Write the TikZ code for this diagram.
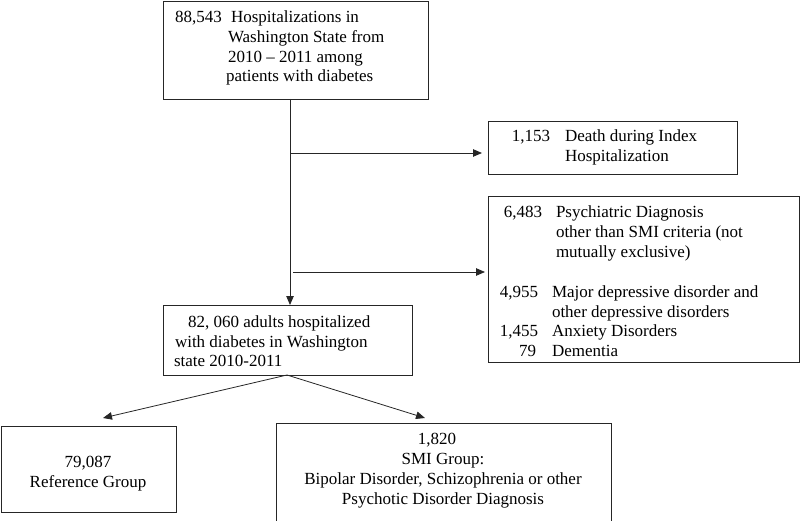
\documentclass[tikz,border=0pt]{standalone}
\usepackage{fontspec}
\setmainfont{Liberation Serif}
\usetikzlibrary{arrows.meta}
\newcommand{\fsz}{\fontsize{17}{20}\selectfont}
\begin{document}
\begin{tikzpicture}[x=1pt,y=-1pt,
  box/.style={draw=black!85, line width=0.9pt, inner sep=0pt, outer sep=0pt},
  txt/.style={inner sep=0pt, outer sep=0pt, font=\fsz, anchor=base west},
  num/.style={inner sep=0pt, outer sep=0pt, font=\fsz, anchor=base east},
  ctr/.style={inner sep=0pt, outer sep=0pt, font=\fsz, anchor=base},
  conn/.style={draw=black!85, line width=0.8pt},
  arr/.style={conn, -{Triangle[length=9pt,width=7.5pt]}}]
\useasboundingbox (0,0) rectangle (800,521);
% boxes
\node[box, minimum width=265pt, minimum height=98pt] (b1) at (295.5,50) {};
\node[box, minimum width=249pt, minimum height=53pt] (b2) at (612.5,147.5) {};
\node[box, minimum width=311pt, minimum height=166pt] (b3) at (643.5,279) {};
\node[box, minimum width=249pt, minimum height=70pt] (b4) at (287.5,340) {};
\node[box, minimum width=175pt, minimum height=86pt] (b5) at (88.5,469) {};
\node[box, minimum width=335pt, minimum height=102pt] (b6) at (443.5,474) {};
% box 1 text
\node[txt] (t1a) at (175,23) {88,543};
\node[txt] (t1b) at (231,23) {Hospitalizations in};
\node[txt] (t1c) at (228,43) {Washington State from};
\node[txt] (t1d) at (228,63) {2010 -- 2011 among};
\node[txt] (t1e) at (226,82) {patients with diabetes};
% box 2 text
\node[num] (t2a) at (550,142) {1,153};
\node[txt] (t2b) at (565,142) {Death during Index};
\node[txt] (t2c) at (565,162) {Hospitalization};
% box 3 text
\node[num] (t3a) at (542,218) {6,483};
\node[txt] (t3b) at (556,218) {Psychiatric Diagnosis};
\node[txt] (t3c) at (556,238) {other than SMI criteria (not};
\node[txt] (t3d) at (556,258) {mutually exclusive)};
\node[num] (t3e) at (538,297) {4,955};
\node[txt] (t3f) at (552,297) {Major depressive disorder and};
\node[txt] (t3g) at (552,317) {other depressive disorders};
\node[num] (t3h) at (538,336) {1,455};
\node[txt] (t3i) at (552,336) {Anxiety Disorders};
\node[num] (t3j) at (536,356) {79};
\node[txt] (t3k) at (552,356) {Dementia};
% box 4 text
\node[txt] (t4a) at (188,327) {82, 060 adults hospitalized};
\node[txt] (t4b) at (175,347) {with diabetes in Washington};
\node[txt] (t4c) at (174,366) {state 2010-2011};
% box 5 text
\node[ctr] (t5a) at (88,467) {79,087};
\node[ctr] (t5b) at (88,487) {Reference Group};
% box 6 text
\node[ctr] (t6a) at (437,444) {1,820};
\node[ctr] (t6b) at (443,464) {SMI Group:};
\node[ctr] (t6c) at (443,484) {Bipolar Disorder, Schizophrenia or other};
\node[ctr] (t6d) at (443,504) {Psychotic Disorder Diagnosis};
% connector coordinates
\coordinate (j1) at (290,153);
\coordinate (j2) at (293,272);
\coordinate (src) at (287,375);
\coordinate (tipL) at (103,418);
\coordinate (tipR) at (425,418);
% connectors
\draw[arr] (b1.south -| j1) -- (b4.north -| j1);
\draw[arr] (j1) -- ([xshift=-6pt]b2.west |- j1);
\draw[arr] (j2) -- ([xshift=-3pt]b3.west |- j2);
\draw[arr] (src) -- (tipL);
\draw[arr] (src) -- (tipR);
\end{tikzpicture}
\end{document}
